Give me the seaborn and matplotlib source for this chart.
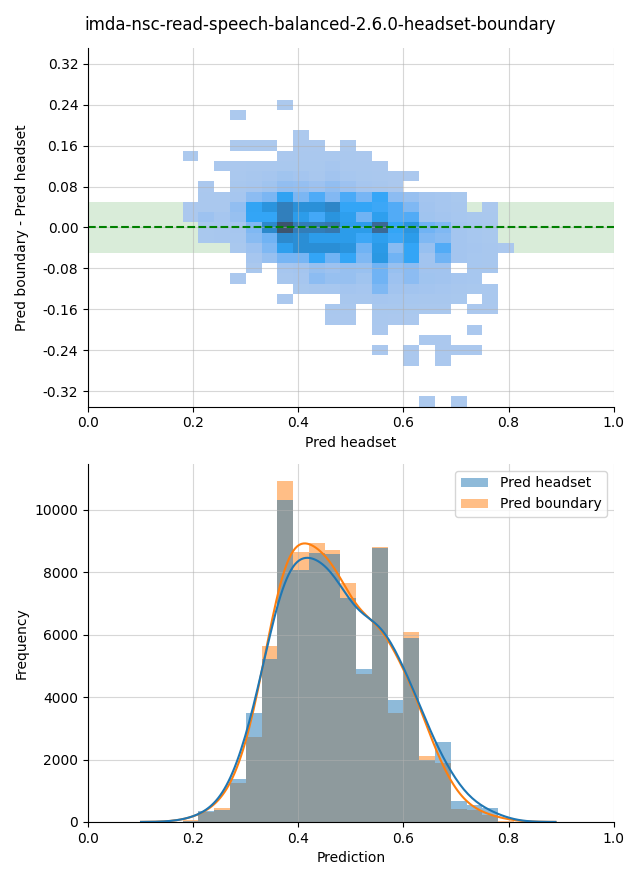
import matplotlib
matplotlib.use('Agg')
import matplotlib.pyplot as plt
import seaborn as sns
import numpy as np
import pandas as pd

title = 'imda-nsc-read-speech-balanced-2.6.0-headset-boundary'

# lower edges of the prediction bins (width 0.03)
bin_lo = [0.18, 0.21, 0.24, 0.27, 0.30, 0.33, 0.36, 0.39, 0.42, 0.45, 0.48,
          0.51, 0.54, 0.57, 0.60, 0.63, 0.66, 0.69, 0.72, 0.75, 0.78]
bin_w = 0.03

# bottom panel: counts per bin
headset_counts = [40, 350, 385, 1380, 3500, 5220, 10320, 8080, 8610, 8590, 7190,
                  4900, 8770, 3910, 5900, 1990, 2560, 670, 545, 440, 0]
boundary_counts = [50, 330, 460, 1240, 2730, 5640, 10930, 8660, 8950, 8720, 7650,
                   4740, 8810, 3500, 6090, 2125, 1880, 420, 380, 230, 30]

# top panel: centres of the difference rows (height 0.02)
diff_rows = [0.24, 0.22, 0.20, 0.18, 0.16, 0.14, 0.12, 0.10, 0.08, 0.06, 0.04,
             0.02, 0.00, -0.02, -0.04, -0.06, -0.08, -0.10, -0.12, -0.14, -0.16,
             -0.18, -0.20, -0.22, -0.24, -0.26, -0.28, -0.30, -0.32, -0.34]
row_h = 0.02

# counts per cell, one row per diff_rows entry, one column per bin_lo entry
cell_counts = [
    [0, 0, 0, 0, 0, 0, 5, 0, 0, 0, 0, 0, 0, 0, 0, 0, 0, 0, 0, 0, 0],
    [0, 0, 0, 5, 0, 0, 0, 0, 0, 0, 0, 0, 0, 0, 0, 0, 0, 0, 0, 0, 0],
    [0, 0, 0, 0, 0, 0, 0, 0, 0, 0, 0, 0, 0, 0, 0, 0, 0, 0, 0, 0, 0],
    [0, 0, 0, 0, 0, 0, 0, 5, 0, 0, 0, 0, 0, 0, 0, 0, 0, 0, 0, 0, 0],
    [0, 0, 0, 8, 8, 8, 0, 15, 10, 0, 8, 0, 0, 0, 0, 0, 0, 0, 0, 0, 0],
    [5, 0, 0, 0, 0, 0, 15, 20, 20, 25, 20, 10, 0, 0, 0, 0, 0, 0, 0, 0, 0],
    [0, 0, 10, 15, 20, 20, 30, 35, 30, 60, 25, 20, 10, 0, 0, 0, 0, 0, 0, 0, 0],
    [0, 0, 0, 20, 40, 60, 120, 80, 40, 100, 50, 30, 20, 15, 10, 0, 0, 0, 0, 0, 0],
    [0, 10, 0, 40, 60, 120, 250, 220, 150, 250, 150, 60, 40, 15, 0, 0, 0, 0, 0, 0, 0],
    [0, 20, 20, 60, 300, 420, 880, 420, 700, 380, 720, 450, 800, 300, 200, 80, 60, 30, 0, 0, 0],
    [15, 20, 25, 250, 850, 1180, 1600, 1250, 1250, 1450, 830, 830, 780, 680, 400, 100, 60, 40, 0, 10, 0],
    [15, 150, 60, 200, 830, 830, 1600, 1000, 750, 1180, 950, 500, 950, 680, 680, 120, 80, 50, 30, 20, 0],
    [0, 30, 40, 60, 400, 1400, 2500, 1650, 1650, 1750, 1000, 1000, 2050, 830, 1150, 500, 400, 80, 50, 30, 0],
    [0, 30, 40, 50, 330, 500, 1380, 1280, 1000, 1000, 1000, 780, 950, 780, 1000, 400, 330, 80, 50, 30, 0],
    [0, 0, 0, 30, 150, 400, 950, 1280, 1280, 1280, 1180, 500, 1050, 330, 830, 200, 680, 80, 60, 40, 10],
    [0, 0, 0, 0, 60, 200, 450, 450, 830, 500, 830, 400, 1100, 500, 830, 100, 500, 80, 50, 40, 0],
    [0, 0, 0, 0, 20, 0, 60, 80, 200, 150, 200, 180, 500, 200, 300, 100, 100, 0, 50, 40, 0],
    [0, 0, 0, 10, 0, 0, 40, 60, 300, 200, 200, 120, 500, 150, 300, 120, 100, 60, 50, 0, 0],
    [0, 0, 0, 0, 0, 0, 0, 30, 40, 50, 80, 60, 400, 100, 100, 80, 60, 40, 30, 20, 0],
    [0, 0, 0, 0, 0, 0, 10, 0, 0, 0, 40, 40, 60, 50, 50, 40, 40, 30, 0, 20, 0],
    [0, 0, 0, 0, 0, 0, 0, 0, 0, 20, 20, 0, 30, 30, 30, 20, 20, 0, 15, 15, 0],
    [0, 0, 0, 0, 0, 0, 0, 0, 0, 15, 15, 0, 20, 15, 15, 0, 0, 0, 0, 0, 0],
    [0, 0, 0, 0, 0, 0, 0, 0, 0, 0, 0, 0, 10, 0, 0, 0, 0, 0, 10, 0, 0],
    [0, 0, 0, 0, 0, 0, 0, 0, 0, 0, 0, 0, 0, 0, 0, 10, 10, 0, 0, 0, 0],
    [0, 0, 0, 0, 0, 0, 0, 0, 0, 0, 0, 0, 10, 0, 10, 0, 10, 10, 10, 0, 0],
    [0, 0, 0, 0, 0, 0, 0, 0, 0, 0, 0, 0, 0, 0, 10, 0, 10, 0, 0, 0, 0],
    [0, 0, 0, 0, 0, 0, 0, 0, 0, 0, 0, 0, 0, 0, 0, 0, 0, 0, 0, 0, 0],
    [0, 0, 0, 0, 0, 0, 0, 0, 0, 0, 0, 0, 0, 0, 0, 0, 0, 0, 0, 0, 0],
    [0, 0, 0, 0, 0, 0, 0, 0, 0, 0, 0, 0, 0, 0, 0, 0, 0, 0, 0, 0, 0],
    [0, 0, 0, 0, 0, 0, 0, 0, 0, 0, 0, 0, 0, 0, 0, 5, 0, 5, 0, 0, 0],
]

# ---- build plotting tables
centers = np.array(bin_lo) + bin_w / 2
x_edges = [round(v, 4) for v in bin_lo] + [round(bin_lo[-1] + bin_w, 4)]
rows = np.array(diff_rows)
y_edges = sorted(np.round(np.append(rows - row_h / 2, rows.max() + row_h / 2), 4).tolist())

xx, yy = np.meshgrid(centers, rows)
cells = pd.DataFrame({'x': xx.ravel(), 'y': yy.ravel(),
                      'w': np.array(cell_counts, dtype=float).ravel()})
cells = cells[cells['w'] > 0]

hist_df = pd.concat([
    pd.DataFrame({'Prediction': centers, 'Frequency': headset_counts, 'series': 'Pred headset'}),
    pd.DataFrame({'Prediction': centers, 'Frequency': boundary_counts, 'series': 'Pred boundary'}),
], ignore_index=True)
hist_df = hist_df[hist_df['Frequency'] > 0]

fig, (ax1, ax2) = plt.subplots(2, 1, figsize=(6.4, 8.8), dpi=100)
fig.subplots_adjust(left=0.1375, right=0.959, top=0.945, bottom=0.066, hspace=0.16)

# top: 2d histogram of the difference
ax1.axhspan(-0.05, 0.05, color='green', alpha=0.15, lw=0)
sns.histplot(data=cells, x='x', y='y', weights='w', bins=(x_edges, y_edges), ax=ax1)
ax1.axhline(0, color='green', linestyle='--')
ax1.set_xlim(0, 1)
ax1.set_ylim(-0.35, 0.35)
ax1.set_yticks(np.arange(-0.32, 0.33, 0.08))
ax1.yaxis.set_major_formatter(plt.FormatStrFormatter('%.2f'))
ax1.set_xlabel('Pred headset')
ax1.set_ylabel('Pred boundary - Pred headset')
ax1.grid(True, alpha=0.5)

# bottom: overlaid histograms
sns.histplot(data=hist_df, x='Prediction', weights='Frequency', hue='series',
             hue_order=['Pred headset', 'Pred boundary'], bins=x_edges,
             kde=True, kde_kws={'bw_adjust': 0.55, 'cut': 2}, linewidth=0, ax=ax2)
sns.move_legend(ax2, 'upper right', title=None)
ax2.set_xlim(0, 1)
ax2.set_xlabel('Prediction')
ax2.set_ylabel('Frequency')
ax2.grid(True, alpha=0.5)

sns.despine(fig)
fig.align_ylabels([ax1, ax2])
fig.suptitle(title, fontsize=12, y=0.982)
fig.savefig('out.png')
